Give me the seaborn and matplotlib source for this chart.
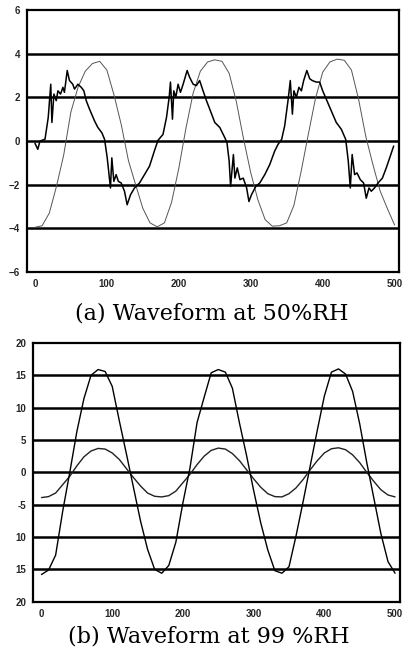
import numpy as np
import pandas as pd
import matplotlib
matplotlib.use("Agg")
import matplotlib.pyplot as plt
import seaborn as sns

# ---------------- data ----------------
# (a) 50%RH : smooth applied voltage and jagged current
volt_a_x = list(range(0, 501, 10))
volt_a_y = [-3.95, -3.88, -3.3, -2.07, -0.64, 1.33, 2.47, 3.2, 3.55, 3.65,
            3.25, 2.1, 0.75, -0.9, -2.0, -3.08, -3.75, -3.93, -3.75, -2.8,
            -1.25, 0.6, 2.2, 3.2, 3.62, 3.72, 3.65, 3.1, 1.8, 0.1,
            -1.45, -2.7, -3.6, -3.9, -3.88, -3.75, -2.95, -1.4, 0.3, 1.95,
            3.15, 3.62, 3.75, 3.7, 3.25, 1.9, 0.2, -1.1, -2.3, -3.1, -3.85]

curr_a_x = [0, 4, 7, 14, 18.5, 22, 23.6, 26.4, 29.6, 32, 35.6, 38.9, 41, 44.9, 48,
            52.6, 55, 59.7, 64.4, 68, 71.3, 75.9, 82.9, 87.5, 93, 96.8, 100.5, 105,
            106.9, 109.7, 112.9, 116, 119.9, 124.5, 128.2, 132.9, 138.4, 145.4, 152.3,
            159.3, 166, 171,
            178, 182.9, 186.6, 188.4, 191.2, 193, 195.8, 199, 202.3, 206, 211.6, 215,
            220, 224.4, 229, 232.9, 238.4, 243, 250, 257, 264, 267, 270, 272, 275.9,
            278, 281.3, 285, 289.6, 294.3, 297.5, 301, 307, 312.6, 319.5, 326.4,
            333.3, 338,
            343, 347.2, 351.8, 355, 357.9, 360, 363.4, 367, 370.4, 373.6, 378, 382,
            385.6, 391, 395.8, 400, 405.9, 412, 418.9, 425.9, 432, 435.6, 438.4, 441,
            444.4, 447.7, 452.3, 456.9, 460.6, 464.4, 467.6, 472, 477, 483, 488.4,
            494, 498.7]
curr_a_y = [-0.1, -0.38, 0.0, 0.08, 1.08, 2.6, 0.85, 2.15, 1.85, 2.3, 2.15, 2.46, 2.23,
            3.23, 2.77, 2.6, 2.38, 2.6, 2.46, 2.3, 1.85, 1.46, 0.92, 0.62, 0.38, 0.08,
            -0.77, -2.15, -0.77, -1.85, -1.54, -1.85, -1.92, -2.3, -2.92, -2.46, -2.15,
            -1.92, -1.54, -1.15, -0.46, 0.03,
            0.3, 1.08, 2.0, 2.7, 1.0, 2.3, 2.0, 2.6, 2.23, 2.6, 3.23, 2.92, 2.6, 2.54,
            2.77, 2.38, 1.85, 1.46, 0.85, 0.62, 0.15, -0.08, -0.92, -2.08, -0.62, -1.7,
            -1.23, -1.77, -1.7, -2.15, -2.77, -2.46, -2.08, -1.92, -1.54, -1.08, -0.46,
            -0.15,
            0.08, 0.7, 1.85, 2.77, 1.23, 2.3, 2.0, 2.46, 2.3, 2.77, 3.23, 2.85, 2.77,
            2.7, 2.7, 2.3, 1.85, 1.38, 0.85, 0.54, 0.08, -0.92, -2.15, -0.62, -1.54,
            -1.46, -1.77, -1.92, -2.62, -2.15, -2.3, -2.15, -1.92, -1.7, -1.23, -0.69,
            -0.23]

# (b) 99%RH : large current wave and small voltage wave
wave_b_x = list(range(0, 501, 10))
big_b_y = [-15.8, -15.1, -12.8, -6.0, 0.0, 6.3, 11.4, 15.0, 15.9, 15.6,
           13.3, 8.0, 2.9, -2.3, -7.5, -11.9, -15.0, -15.6, -14.4, -10.8,
           -4.7, 0.7, 7.7, 11.6, 15.4, 15.9, 15.5, 13.0, 7.6, 2.6,
           -2.8, -7.8, -12.0, -15.2, -15.6, -14.6, -9.8, -4.5, 1.0, 6.5,
           11.8, 15.5, 16.0, 15.2, 12.5, 7.5, 1.5, -4.0, -9.5, -13.8, -15.6]
small_b_y = [-3.9, -3.75, -3.2, -1.9, -0.6, 1.0, 2.4, 3.3, 3.7, 3.6,
             3.0, 2.0, 0.6, -0.8, -2.1, -3.2, -3.7, -3.8, -3.6, -2.9,
             -1.6, -0.3, 1.2, 2.5, 3.4, 3.75, 3.6, 2.9, 1.8, 0.4,
             -1.0, -2.3, -3.3, -3.75, -3.8, -3.3, -2.4, -1.1, 0.4, 1.8,
             3.0, 3.65, 3.8, 3.5, 2.7, 1.5, 0.0, -1.4, -2.7, -3.5, -3.8]

xticks = [0, 100, 200, 300, 400, 500]
yticks_a = [-6, -4, -2, 0, 2, 4, 6]
yticks_b = [-20, -15, -10, -5, 0, 5, 10, 15, 20]
ytick_labels_b = ['20', '15', '10', '-5', '0', '5', '10', '15', '20']
caption_a = "(a) Waveform at 50%RH"
caption_b = "(b) Waveform at 99 %RH"

# ---------------- plot ----------------
sns.set_style("white")
plt.rcParams['font.family'] = ['DejaVu Sans']

fig = plt.figure(figsize=(4.05, 6.55), dpi=100)
ax_a = fig.add_axes([0.0667, 0.5847, 0.9183, 0.4])
ax_b = fig.add_axes([0.0815, 0.0814, 0.9062, 0.3949])

df_va = pd.DataFrame({"x": volt_a_x, "y": volt_a_y})
df_ca = pd.DataFrame({"x": curr_a_x, "y": curr_a_y})
df_bb = pd.DataFrame({"x": wave_b_x, "y": big_b_y})
df_sb = pd.DataFrame({"x": wave_b_x, "y": small_b_y})

def style_axis(ax, yticks, ylim, xlim, ylabels=None):
    for g in yticks[1:-1]:
        ax.axhline(g, color='black', lw=1.8, zorder=1)
    ax.set_xlim(*xlim)
    ax.set_ylim(*ylim)
    ax.set_xticks(xticks)
    ax.set_yticks(yticks)
    if ylabels is not None:
        ax.set_yticklabels(ylabels)
    for lab in ax.get_xticklabels() + ax.get_yticklabels():
        lab.set_fontfamily('Liberation Sans')
        lab.set_fontweight('bold')
        lab.set_fontsize(7)
    ax.tick_params(axis='both', direction='out', length=3, width=1.2,
                   color='black', pad=2)
    for s in ax.spines.values():
        s.set_color('black')
        s.set_linewidth(1.6)
    ax.set_xlabel("")
    ax.set_ylabel("")
    ax.grid(False)

sns.lineplot(data=df_va, x="x", y="y", ax=ax_a, color='#555555', lw=0.7, zorder=3)
sns.lineplot(data=df_ca, x="x", y="y", ax=ax_a, color='black', lw=1.1, zorder=4)
style_axis(ax_a, yticks_a, (-6, 6), (-11, 506))

sns.lineplot(data=df_bb, x="x", y="y", ax=ax_b, color='black', lw=1.0, zorder=4)
sns.lineplot(data=df_sb, x="x", y="y", ax=ax_b, color='#222222', lw=1.0, zorder=3)
style_axis(ax_b, yticks_b, (-20, 20), (-12, 507), ytick_labels_b)

fig.text(212 / 405, 1 - 314 / 655, caption_a, ha='center', va='center',
         fontsize=16, family='DejaVu Serif', color='black')
fig.text(209 / 405, 1 - 637 / 655, caption_b, ha='center', va='center',
         fontsize=16, family='DejaVu Serif', color='black')

fig.savefig("out.png", dpi=100)
